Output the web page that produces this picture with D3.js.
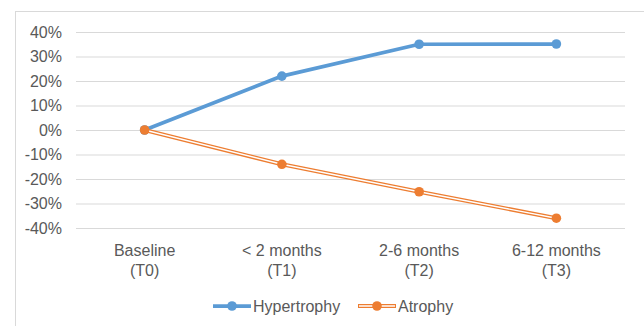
<!DOCTYPE html>
<html>
<head>
<meta charset="utf-8">
<script src="https://cdn.jsdelivr.net/npm/d3@7"></script>
<style>
  html, body { margin: 0; padding: 0; background: #fff; }
  svg { display: block; font-family: "Liberation Sans", Arial, sans-serif; }
</style>
</head>
<body>
<svg id="chart" width="644" height="326"></svg>
<script>
// Time points (two-line labels) and percentage change per group
const categories = ["Baseline|(T0)", "< 2 months|(T1)", "2-6 months|(T2)", "6-12 months|(T3)"];
const hypertrophy = [0, 22.0, 35.0, 35.1];
const atrophy = [0, -14.0, -25.2, -36.0];
const yTicks = [40, 30, 20, 10, 0, -10, -20, -30, -40];
const seriesNames = ["Hypertrophy", "Atrophy"];

const svg = d3.select("#chart");
const W = 644, H = 326;
const plot = { left: 76, right: 625, top: 32, bottom: 228 };
const blue = "#5b9bd5", orange = "#ed7d31", textColor = "#595959", gridColor = "#d9d9d9";
const fontSize = 16;

// Outer chart frame
svg.append("rect")
  .attr("x", 15.5).attr("y", 11.5)
  .attr("width", W + 10).attr("height", H + 10)
  .attr("fill", "none").attr("stroke", gridColor).attr("stroke-width", 1);

const x = d3.scaleBand().domain(categories).range([plot.left, plot.right]);
const y = d3.scaleLinear().domain([-40, 40]).range([plot.bottom, plot.top]);
const cx = c => x(c) + x.bandwidth() / 2;

// Horizontal gridlines and percentage labels
const yAxis = d3.axisLeft(y).tickValues(yTicks)
  .tickSize(-(plot.right - plot.left)).tickPadding(14)
  .tickFormat(d => d + "%");
const gy = svg.append("g").attr("transform", `translate(${plot.left},0)`).call(yAxis);
gy.select(".domain").remove();
gy.selectAll(".tick line").attr("stroke", gridColor).attr("stroke-width", 1);
gy.selectAll(".tick text").attr("fill", textColor).attr("font-size", fontSize)
  .attr("font-family", "Liberation Sans, Arial, sans-serif");

// Category labels (two lines each)
const xAxis = d3.axisBottom(x).tickSize(0).tickFormat("");
const gx = svg.append("g").attr("transform", `translate(0,${plot.bottom})`).call(xAxis);
gx.select(".domain").remove();
gx.selectAll(".tick").each(function(d) {
  const parts = d.split("|");
  const t = d3.select(this).append("text")
    .attr("fill", textColor).attr("font-size", fontSize)
    .attr("text-anchor", "middle")
    .attr("font-family", "Liberation Sans, Arial, sans-serif");
  parts.forEach((p, i) => {
    t.append("tspan").attr("x", 0).attr("y", 28 + i * 20).text(p);
  });
});

const line = d3.line().x((d, i) => cx(categories[i])).y(d => y(d));

// Hypertrophy: solid thick line
svg.append("path").datum(hypertrophy)
  .attr("d", line).attr("fill", "none")
  .attr("stroke", blue).attr("stroke-width", 3.75).attr("stroke-linejoin", "round");
svg.append("g").selectAll("circle").data(hypertrophy).join("circle")
  .attr("cx", (d, i) => cx(categories[i])).attr("cy", d => y(d))
  .attr("r", 4.8).attr("fill", blue);

// Atrophy: double (outlined) line
const atro = svg.append("g");
atro.append("path").datum(atrophy).attr("d", line).attr("fill", "none")
  .attr("stroke", orange).attr("stroke-width", 4).attr("stroke-linejoin", "round");
atro.append("path").datum(atrophy).attr("d", line).attr("fill", "none")
  .attr("stroke", "#fff").attr("stroke-width", 1.4).attr("stroke-linejoin", "round");
atro.selectAll("circle").data(atrophy).join("circle")
  .attr("cx", (d, i) => cx(categories[i])).attr("cy", d => y(d))
  .attr("r", 4.8).attr("fill", orange);

// Legend
const legend = svg.append("g").attr("transform", "translate(0,306)");
const legendItems = [
  { name: seriesNames[0], color: blue, x0: 213, double: false },
  { name: seriesNames[1], color: orange, x0: 358, double: true }
];
legendItems.forEach(it => {
  const g = legend.append("g").attr("transform", `translate(${it.x0},0)`);
  g.append("line").attr("x1", 0).attr("x2", 38).attr("y1", 0).attr("y2", 0)
    .attr("stroke", it.color).attr("stroke-width", it.double ? 4 : 3.75);
  if (it.double) {
    g.append("line").attr("x1", 1).attr("x2", 37).attr("y1", 0).attr("y2", 0)
      .attr("stroke", "#fff").attr("stroke-width", 1.4);
  }
  g.append("circle").attr("cx", 19).attr("cy", 0).attr("r", 4.8).attr("fill", it.color);
  g.append("text").attr("x", 40).attr("y", 0).attr("dy", "0.35em")
    .attr("fill", textColor).attr("font-size", fontSize).text(it.name);
});
</script>
</body>
</html>
